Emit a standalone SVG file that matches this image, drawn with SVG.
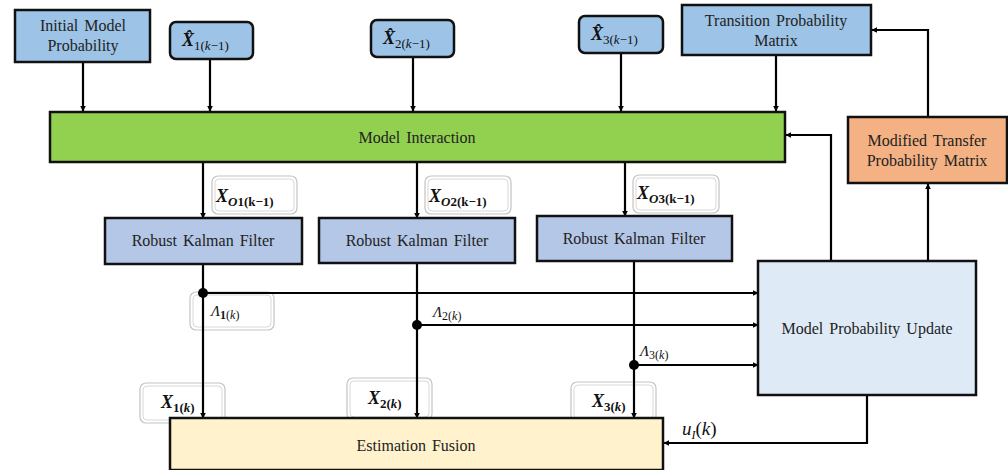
<svg xmlns="http://www.w3.org/2000/svg" width="1008" height="470" viewBox="0 0 1008 470">
<defs>
<marker id="ah" viewBox="0 0 10 10" refX="9" refY="5" markerWidth="6" markerHeight="6" markerUnits="userSpaceOnUse" orient="auto">
<path d="M0,0 L10,5 L0,10 z" fill="#000"/>
</marker>
<style>
.box{stroke:#111;stroke-width:2.5}
.t{font-family:"Liberation Serif","Times New Roman",serif;font-size:16px;fill:#222;text-anchor:middle;word-spacing:2px}
.m{font-family:"Liberation Serif","DejaVu Serif",serif;font-style:italic;fill:#111}
.b{font-weight:bold}
.u{font-style:normal}
.lo{fill:#fff;stroke:#c4c4c4;stroke-width:1.2}
.li{fill:none;stroke:#d8d8d8;stroke-width:1}
.c{fill:none;stroke:#000;stroke-width:2.2}
.a{marker-end:url(#ah)}
</style>
</defs>
<rect width="1008" height="470" fill="#fff"/>

<!-- label boxes -->
<g id="lbl-xo1"><rect class="lo" x="212" y="176" width="85" height="38" rx="6"/><rect class="li" x="215" y="179" width="79" height="32" rx="4"/>
<text class="m b" x="216" y="202" font-size="18">X<tspan font-size="13" dy="4">O</tspan><tspan font-size="13" class="u">1(k−1)</tspan></text></g>
<g id="lbl-xo2"><rect class="lo" x="425" y="176" width="86" height="38" rx="6"/><rect class="li" x="428" y="179" width="80" height="32" rx="4"/>
<text class="m b" x="429" y="202" font-size="18">X<tspan font-size="13" dy="4">O</tspan><tspan font-size="13" class="u">2(k−1)</tspan></text></g>
<g id="lbl-xo3"><rect class="lo" x="633" y="175" width="86" height="38" rx="6"/><rect class="li" x="636" y="178" width="80" height="32" rx="4"/>
<text class="m b" x="637" y="199" font-size="18">X<tspan font-size="13" dy="4">O</tspan><tspan font-size="13" class="u">3(k−1)</tspan></text></g>
<g id="lbl-l1"><rect class="lo" x="190" y="292" width="84" height="38" rx="6"/><rect class="li" x="193" y="295" width="78" height="32" rx="4"/>
<text class="m" x="211" y="316" font-size="15">Λ<tspan font-size="12" dy="3" class="u b">1</tspan><tspan font-size="12" class="u">(</tspan><tspan font-size="12">k</tspan><tspan font-size="12" class="u">)</tspan></text></g>
<g id="lbl-x1"><rect class="lo" x="140" y="383" width="85" height="40" rx="6"/><rect class="li" x="143" y="386" width="79" height="34" rx="4"/>
<text class="m b" x="161" y="408" font-size="18">X<tspan font-size="13" dy="4" class="u">1(</tspan><tspan font-size="13">k</tspan><tspan font-size="13" class="u">)</tspan></text></g>
<g id="lbl-x2"><rect class="lo" x="347" y="378" width="85" height="42" rx="6"/><rect class="li" x="350" y="381" width="79" height="36" rx="4"/>
<text class="m b" x="368" y="404" font-size="18">X<tspan font-size="13" dy="4" class="u">2(</tspan><tspan font-size="13">k</tspan><tspan font-size="13" class="u">)</tspan></text></g>
<g id="lbl-x3"><rect class="lo" x="571" y="382" width="85" height="40" rx="6"/><rect class="li" x="574" y="385" width="79" height="34" rx="4"/>
<text class="m b" x="592" y="407" font-size="18">X<tspan font-size="13" dy="4" class="u">3(</tspan><tspan font-size="13">k</tspan><tspan font-size="13" class="u">)</tspan></text></g>

<!-- connectors -->
<g id="connectors">
<line class="c a" x1="83" y1="62" x2="83" y2="111"/>
<line class="c a" x1="210" y1="59" x2="210" y2="111"/>
<line class="c a" x1="413" y1="57" x2="413" y2="111"/>
<line class="c a" x1="621" y1="53" x2="621" y2="111"/>
<line class="c a" x1="776" y1="55" x2="776" y2="111"/>
<line class="c a" x1="203" y1="162" x2="203" y2="218"/>
<line class="c a" x1="417" y1="162" x2="417" y2="218"/>
<line class="c a" x1="625" y1="162" x2="625" y2="216"/>
<line class="c a" x1="203" y1="264" x2="203" y2="418"/>
<line class="c a" x1="417" y1="263" x2="417" y2="418"/>
<line class="c a" x1="634" y1="261" x2="634" y2="418"/>
<line class="c a" x1="203" y1="293" x2="758" y2="293"/>
<line class="c a" x1="417" y1="325" x2="758" y2="325"/>
<line class="c a" x1="634" y1="365" x2="758" y2="365"/>
<polyline class="c a" points="831,261 831,135 786,135"/>
<line class="c a" x1="928" y1="261" x2="928" y2="184"/>
<polyline class="c a" points="928,117 928,30 872,30"/>
<polyline class="c a" points="867,395 867,443 664,443"/>
<circle cx="203" cy="293" r="5" fill="#000"/>
<circle cx="417" cy="325" r="5" fill="#000"/>
<circle cx="634" cy="365" r="5" fill="#000"/>
</g>

<text class="m" x="433" y="317" font-size="15">Λ<tspan font-size="12" dy="3" class="u">2(</tspan><tspan font-size="12">k</tspan><tspan font-size="12" class="u">)</tspan></text>
<text class="m" x="640" y="356" font-size="15">Λ<tspan font-size="12" dy="3" class="u">3(</tspan><tspan font-size="12">k</tspan><tspan font-size="12" class="u">)</tspan></text>
<text class="m" x="682" y="435" font-size="19">u<tspan font-size="12" dy="4">I</tspan><tspan dy="-4" class="u">(</tspan>k<tspan class="u">)</tspan></text>

<!-- nodes -->
<g id="initial-model-probability"><rect class="box" x="15" y="10" width="135" height="52" fill="#9dc3e6"/>
<text class="t" x="83" y="31">Initial Model</text><text class="t" x="83" y="51">Probability</text></g>
<g id="x1hat"><rect class="box" x="170" y="22" width="83" height="37" rx="6" fill="#9dc3e6"/>
<text class="m b" x="182" y="46" font-size="18">X̂<tspan font-size="13" dy="4" class="u" font-weight="normal">1(</tspan><tspan font-size="13" font-weight="normal">k</tspan><tspan font-size="13" class="u" font-weight="normal">−1)</tspan></text></g>
<g id="x2hat"><rect class="box" x="371" y="20" width="83" height="37" rx="6" fill="#9dc3e6"/>
<text class="m b" x="383" y="44" font-size="18">X̂<tspan font-size="13" dy="4" class="u" font-weight="normal">2(</tspan><tspan font-size="13" font-weight="normal">k</tspan><tspan font-size="13" class="u" font-weight="normal">−1)</tspan></text></g>
<g id="x3hat"><rect class="box" x="579" y="16" width="84" height="37" rx="6" fill="#9dc3e6"/>
<text class="m b" x="591" y="40" font-size="18">X̂<tspan font-size="13" dy="4" class="u" font-weight="normal">3(</tspan><tspan font-size="13" font-weight="normal">k</tspan><tspan font-size="13" class="u" font-weight="normal">−1)</tspan></text></g>
<g id="transition-probability-matrix"><rect class="box" x="682" y="5" width="189" height="50" fill="#9dc3e6"/>
<text class="t" x="776" y="26">Transition Probability</text><text class="t" x="776" y="46">Matrix</text></g>
<g id="model-interaction"><rect class="box" x="50" y="112" width="735" height="50" fill="#92d050"/>
<text class="t" x="417" y="143">Model Interaction</text></g>
<g id="modified-transfer"><rect class="box" x="848" y="117" width="159" height="66" fill="#f4b183"/>
<text class="t" x="927" y="146">Modified Transfer</text><text class="t" x="927" y="166">Probability Matrix</text></g>
<g id="rkf1"><rect class="box" x="105" y="218" width="197" height="46" fill="#b4c7e7"/>
<text class="t" x="203" y="246">Robust Kalman Filter</text></g>
<g id="rkf2"><rect class="box" x="319" y="218" width="196" height="45" fill="#b4c7e7"/>
<text class="t" x="417" y="246">Robust Kalman Filter</text></g>
<g id="rkf3"><rect class="box" x="537" y="216" width="195" height="45" fill="#b4c7e7"/>
<text class="t" x="634" y="244">Robust Kalman Filter</text></g>
<g id="model-probability-update"><rect class="box" x="758" y="261" width="218" height="134" fill="#deebf7"/>
<text class="t" x="867" y="334">Model Probability Update</text></g>
<g id="estimation-fusion"><rect class="box" x="170" y="418" width="493" height="52" fill="#fff2cc"/>
<text class="t" x="416" y="451">Estimation Fusion</text></g>
</svg>
